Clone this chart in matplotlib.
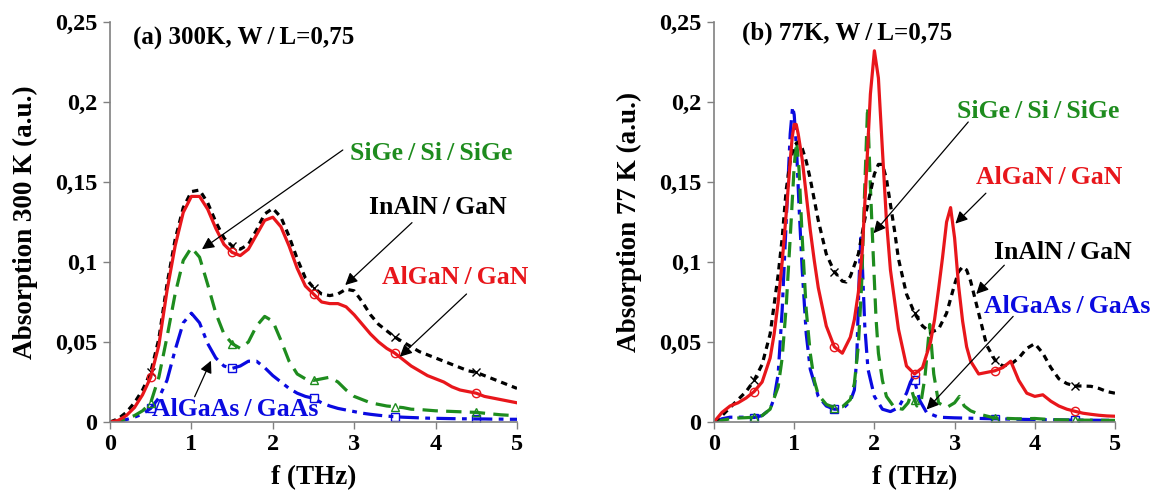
import numpy as np
from matplotlib import pyplot as plt

# ---------- (a) 300 K ----------
f_300 = [0.0, 0.1, 0.2, 0.3, 0.4, 0.5, 0.6, 0.7, 0.8, 0.9,
         1.0, 1.1, 1.2, 1.3, 1.4, 1.5, 1.6, 1.7, 1.8, 1.9,
         2.0, 2.1, 2.2, 2.3, 2.4, 2.5, 2.6, 2.7, 2.8, 2.9,
         3.0, 3.1, 3.2, 3.3, 3.4, 3.5, 3.6, 3.7, 3.8, 3.9,
         4.0, 4.1, 4.2, 4.3, 4.4, 4.5, 4.6, 4.7, 4.8, 4.9, 5.0]

algan_300 = [0, 0.001, 0.004, 0.009, 0.017, 0.028, 0.048, 0.082, 0.110, 0.131,
             0.141, 0.141, 0.133, 0.121, 0.111, 0.106, 0.104, 0.108, 0.117, 0.126,
             0.128, 0.122, 0.110, 0.096, 0.085, 0.080, 0.075, 0.074, 0.074, 0.072,
             0.067, 0.061, 0.055, 0.050, 0.046, 0.043, 0.039, 0.035, 0.032, 0.029,
             0.027, 0.025, 0.022, 0.020, 0.019, 0.018, 0.016, 0.015, 0.014, 0.013, 0.012]

inaln_300 = [0, 0.002, 0.006, 0.012, 0.020, 0.031, 0.052, 0.086, 0.114, 0.134,
             0.144, 0.145, 0.137, 0.125, 0.115, 0.110, 0.108, 0.111, 0.120, 0.130,
             0.1335, 0.128, 0.116, 0.102, 0.090, 0.084, 0.080, 0.079, 0.080, 0.083,
             0.082, 0.075, 0.067, 0.061, 0.057, 0.053, 0.050, 0.047, 0.044, 0.042,
             0.040, 0.038, 0.036, 0.034, 0.032, 0.031, 0.029, 0.027, 0.025, 0.023, 0.021]

sige_300 = [0, 0.0005, 0.002, 0.004, 0.007, 0.012, 0.028, 0.053, 0.080, 0.101,
            0.109, 0.103, 0.086, 0.068, 0.055, 0.049, 0.046, 0.050, 0.060, 0.066,
            0.063, 0.051, 0.038, 0.030, 0.027, 0.026, 0.027, 0.028, 0.025, 0.020,
            0.016, 0.014, 0.012, 0.011, 0.010, 0.0095, 0.009, 0.008, 0.0078, 0.0074,
            0.007, 0.0068, 0.0066, 0.0064, 0.0062, 0.006, 0.0055, 0.005, 0.0045, 0.0042, 0.004]

algaas_300 = [0, 0.0005, 0.0015, 0.003, 0.005, 0.0085, 0.015, 0.026, 0.045, 0.062,
              0.068, 0.062, 0.049, 0.040, 0.035, 0.0335, 0.035, 0.038, 0.038, 0.034,
              0.029, 0.025, 0.021, 0.018, 0.016, 0.0148, 0.012, 0.010, 0.0085, 0.0075,
              0.0065, 0.0055, 0.0048, 0.0042, 0.0037, 0.0033, 0.003, 0.0028, 0.0026, 0.0024,
              0.0023, 0.0022, 0.0021, 0.002, 0.002, 0.0019, 0.0019, 0.0018, 0.0018, 0.0017, 0.0017]

# ---------- (b) 77 K ----------
f_algan_77 = [0.0, 0.1, 0.2, 0.3, 0.4, 0.5, 0.6, 0.7, 0.75, 0.8, 0.85, 0.9, 0.95,
              0.975, 1.0, 1.025, 1.05, 1.1, 1.15, 1.2, 1.25, 1.3, 1.4, 1.5, 1.6, 1.7, 1.75, 1.8,
              1.85, 1.9, 1.95, 2.0, 2.05, 2.1, 2.15, 2.2, 2.3, 2.4, 2.5, 2.6, 2.7,
              2.75, 2.8, 2.85, 2.9, 2.95, 3.0, 3.05, 3.1, 3.15, 3.2, 3.3, 3.4, 3.5,
              3.6, 3.7, 3.8, 3.9, 4.0, 4.1, 4.2, 4.3, 4.4, 4.5, 4.6, 4.7, 4.8, 4.9, 5.0]
algan_77 = [0, 0.006, 0.010, 0.012, 0.015, 0.019, 0.025, 0.040, 0.055, 0.075, 0.100, 0.130, 0.163,
            0.178, 0.186, 0.186, 0.180, 0.164, 0.142, 0.120, 0.101, 0.084, 0.060, 0.047, 0.043, 0.053, 0.064, 0.081,
            0.108, 0.155, 0.205, 0.232, 0.215, 0.170, 0.126, 0.095, 0.058, 0.035, 0.030, 0.034, 0.050,
            0.064, 0.083, 0.103, 0.125, 0.134, 0.115, 0.085, 0.063, 0.047, 0.038, 0.030, 0.031, 0.032,
            0.034, 0.038, 0.026, 0.018, 0.016, 0.017, 0.013, 0.010, 0.008, 0.0067, 0.0055, 0.0048, 0.0042, 0.0038, 0.0036]

f_inaln_77 = [0.0, 0.1, 0.2, 0.3, 0.4, 0.5, 0.6, 0.7, 0.8, 0.85, 0.9, 0.95, 1.0, 1.05,
              1.1, 1.15, 1.2, 1.3, 1.4, 1.5, 1.6, 1.65, 1.7, 1.8, 1.9, 2.0, 2.05, 2.1,
              2.15, 2.2, 2.25, 2.3, 2.4, 2.5, 2.6, 2.7, 2.8, 2.9, 3.0, 3.05, 3.1, 3.15,
              3.2, 3.3, 3.4, 3.5, 3.6, 3.7, 3.8, 3.9, 4.0, 4.1, 4.2, 4.3, 4.4, 4.5,
              4.6, 4.7, 4.8, 4.9, 5.0]
inaln_77 = [0, 0.004, 0.009, 0.014, 0.019, 0.026, 0.036, 0.055, 0.092, 0.115, 0.145, 0.163, 0.173, 0.175,
            0.171, 0.163, 0.152, 0.126, 0.105, 0.094, 0.088, 0.0875, 0.091, 0.105, 0.132, 0.155, 0.161, 0.161,
            0.152, 0.136, 0.120, 0.102, 0.080, 0.068, 0.060, 0.056, 0.058, 0.068, 0.086, 0.094, 0.097, 0.095,
            0.088, 0.068, 0.048, 0.039, 0.035, 0.036, 0.040, 0.046, 0.049, 0.043, 0.034, 0.027, 0.024, 0.0225,
            0.0225, 0.0223, 0.021, 0.019, 0.018]

f_sige_77 = [0.0, 0.1, 0.2, 0.3, 0.4, 0.5, 0.6, 0.7, 0.8, 0.85, 0.9, 0.95, 1.0, 1.03, 1.06,
             1.1, 1.15, 1.2, 1.25, 1.3, 1.4, 1.5, 1.6, 1.7, 1.75, 1.8, 1.84, 1.88, 1.915,
             1.95, 1.985, 2.02, 2.05, 2.1, 2.15, 2.25, 2.35, 2.42, 2.47, 2.5, 2.53, 2.58,
             2.63, 2.69, 2.74, 2.8, 2.9, 3.0, 3.06, 3.12, 3.2, 3.3, 3.5, 3.8, 4.0, 4.2,
             4.5, 5.0]
sige_77 = [0, 0.001, 0.002, 0.0025, 0.0027, 0.003, 0.004, 0.008, 0.022, 0.040, 0.072, 0.115, 0.160, 0.176, 0.158,
           0.115, 0.070, 0.043, 0.026, 0.017, 0.011, 0.009, 0.0095, 0.014, 0.024, 0.048, 0.085, 0.147, 0.197,
           0.147, 0.105, 0.065, 0.043, 0.026, 0.016, 0.009, 0.008, 0.012, 0.019, 0.014, 0.010, 0.012,
           0.028, 0.061, 0.030, 0.012, 0.009, 0.012, 0.016, 0.010, 0.007, 0.005, 0.0025, 0.002, 0.0022, 0.0015,
           0.0012, 0.001]

f_algaas_77 = [0.0, 0.1, 0.2, 0.3, 0.4, 0.5, 0.6, 0.7, 0.75, 0.8, 0.85, 0.9, 0.95, 0.98, 1.0,
               1.03, 1.06, 1.1, 1.15, 1.2, 1.3, 1.4, 1.5, 1.6, 1.7, 1.75, 1.78, 1.81, 1.83,
               1.85, 1.88, 1.92, 2.0, 2.1, 2.2, 2.3, 2.4, 2.45, 2.48, 2.5, 2.53, 2.57, 2.65,
               2.8, 3.0, 3.5, 4.0, 4.5, 5.0]
algaas_77 = [0, 0.002, 0.003, 0.003, 0.003, 0.0028, 0.004, 0.008, 0.015, 0.030, 0.070, 0.125, 0.180, 0.197, 0.192,
             0.170, 0.135, 0.095, 0.055, 0.033, 0.016, 0.010, 0.008, 0.008, 0.013, 0.020, 0.040, 0.090, 0.115,
             0.098, 0.060, 0.033, 0.016, 0.008, 0.0065, 0.009, 0.018, 0.025, 0.0275, 0.026, 0.020, 0.013, 0.006,
             0.003, 0.0026, 0.002, 0.0015, 0.0012, 0.001]

marker_f = [0.5, 1.5, 2.5, 3.5, 4.5]
yticks = [0, 0.05, 0.1, 0.15, 0.2, 0.25]
ytick_labels = ['0', '0,05', '0,1', '0,15', '0,2', '0,25']

RED = '#e8161b'
BLACK = '#000000'
GREEN = '#1e8c1e'
BLUE = '#0a0ae0'
SL = '\u2009/\u2009'   # spaced slash, like the original typeface

plt.rcParams['font.family'] = ['Liberation Serif', 'DejaVu Serif']
plt.rcParams['font.weight'] = 'bold'


def marks(f):
    return [list(f).index(v) for v in marker_f]


def draw_curves(ax, curves):
    for f, a, color, style, mk in curves:
        ax.plot(f, a, color=color, lw=2.3, marker=mk, markevery=marks(f),
                markersize=6, markerfacecolor='none', markeredgewidth=1.0,
                markeredgecolor=color, **style)


def style_axes(ax, ylabel):
    ax.set_xlim(0, 5)
    ax.set_ylim(0, 0.25)
    ax.set_xticks(range(6))
    ax.set_xticklabels([str(i) for i in range(6)])
    ax.set_yticks(yticks)
    ax.set_yticklabels(ytick_labels)
    ax.tick_params(direction='out', length=5, width=1.0, color='#808080',
                   labelsize=17.5, pad=4)
    for s in ['top', 'right']:
        ax.spines[s].set_visible(False)
    for s in ['left', 'bottom']:
        ax.spines[s].set_color('#808080')
        ax.spines[s].set_linewidth(1.2)
    ax.set_xlabel('f (THz)', fontsize=19.5, fontweight='bold', labelpad=7)
    ax.set_ylabel(ylabel, fontsize=19.5, fontweight='bold', labelpad=12)


def label(ax, text, color, pos, tail, head):
    ax.text(pos[0], pos[1], text, color=color, fontsize=18.5, fontweight='bold',
            ha='center', va='center')
    ax.annotate('', xy=head, xytext=tail,
                arrowprops=dict(arrowstyle='-|>', color='black', lw=0.9,
                                mutation_scale=18, shrinkA=0, shrinkB=0))


dotted = dict(linestyle=(0, (2.0, 1.6)))
dashed = dict(linestyle=(0, (4.8, 2.6)))
dashdot = dict(linestyle=(0, (6.0, 2.0, 1.5, 2.0)))
solid = dict(linestyle='-')

fig = plt.figure(figsize=(11.66, 4.97), dpi=100)
ax1 = fig.add_axes([110 / 1166, 75 / 497, 407 / 1166, 400 / 497])
ax2 = fig.add_axes([714 / 1166, 75 / 497, 401 / 1166, 400 / 497])

draw_curves(ax1, [
    (f_300, algaas_300, BLUE, dashdot, 's'),
    (f_300, sige_300, GREEN, dashed, '^'),
    (f_300, inaln_300, BLACK, dotted, 'x'),
    (f_300, algan_300, RED, solid, 'o'),
])
style_axes(ax1, 'Absorption 300 K (a.u.)')
ax1.text(0.28, 0.2397, '(a) 300K, W' + SL + 'L=0,75', fontsize=18, fontweight='bold',
         ha='left', va='center')
label(ax1, 'SiGe' + SL + 'Si' + SL + 'SiGe', GREEN, (3.94, 0.168), (2.86, 0.170), (1.13, 0.108))
label(ax1, 'InAlN' + SL + 'GaN', BLACK, (4.03, 0.134), (3.71, 0.1246), (2.89, 0.0856))
label(ax1, 'AlGaN' + SL + 'GaN', RED, (4.24, 0.0906), (4.38, 0.080), (3.56, 0.0408))
label(ax1, 'AlGaAs' + SL + 'GaAs', BLUE, (1.54, 0.008), (1.04, 0.0158), (1.24, 0.0383))

draw_curves(ax2, [
    (f_algaas_77, algaas_77, BLUE, dashdot, 's'),
    (f_sige_77, sige_77, GREEN, dashed, '^'),
    (f_inaln_77, inaln_77, BLACK, dotted, 'x'),
    (f_algan_77, algan_77, RED, solid, 'o'),
])
style_axes(ax2, 'Absorption 77 K (a.u.)')
ax2.text(0.35, 0.243, '(b) 77K, W' + SL + 'L=0,75', fontsize=18, fontweight='bold',
         ha='left', va='center')
label(ax2, 'SiGe' + SL + 'Si' + SL + 'SiGe', GREEN, (4.04, 0.194), (3.17, 0.1875), (1.99, 0.118))
label(ax2, 'AlGaN' + SL + 'GaN', RED, (4.18, 0.153), (3.39, 0.143), (3.01, 0.124))
label(ax2, 'InAlN' + SL + 'GaN', BLACK, (4.35, 0.106), (3.62, 0.098), (3.27, 0.080))
label(ax2, 'AlGaAs' + SL + 'GaAs', BLUE, (4.40, 0.072), (3.73, 0.066), (2.65, 0.0078))

fig.savefig('out.png', dpi=100)
